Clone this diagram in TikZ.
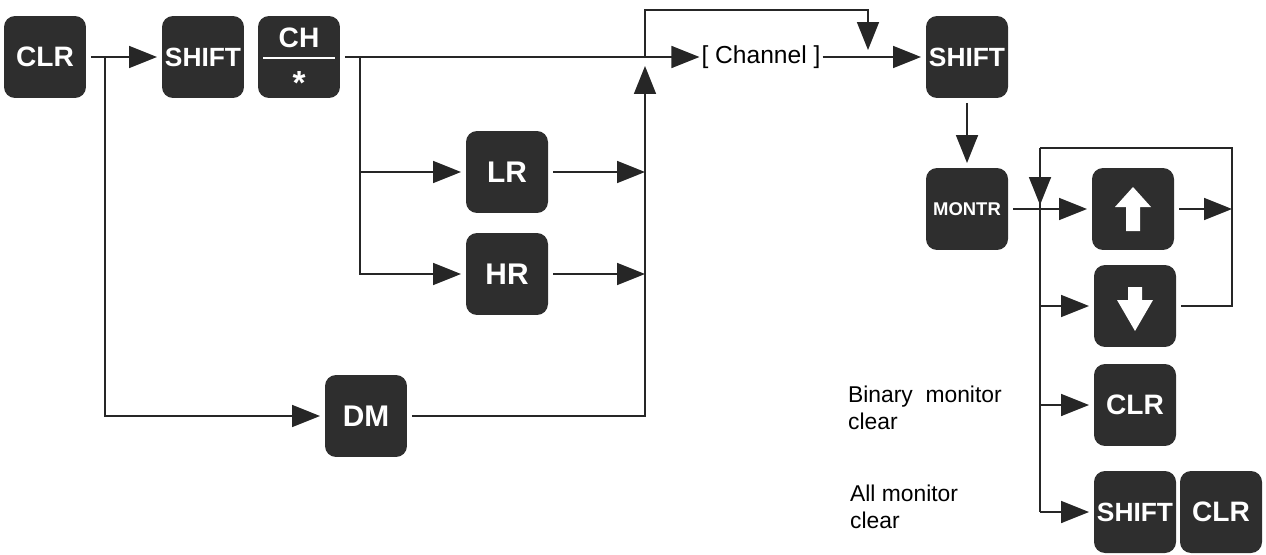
\documentclass[tikz,border=0pt]{standalone}
\usepackage{fontspec}
\setmainfont{Liberation Sans}
\usetikzlibrary{arrows.meta}

\begin{document}
\begin{tikzpicture}[x=0.02cm,y=-0.02cm,
        key/.style={rectangle,rounded corners=0.22cm,fill=black!82,text=white,
            minimum size=1.64cm,inner sep=0pt,outer sep=0.1cm,
            font=\bfseries\fontsize{17}{17}\selectfont},
        keytext/.style={text=white,inner sep=0pt,font=\bfseries\fontsize{16}{16}\selectfont},
        lbl/.style={inner sep=1pt,align=left,font=\fontsize{13}{15}\selectfont},
        wire/.style={line width=1pt,black!85},
        arr/.style={wire,-{Triangle[length=0.56cm,width=0.44cm]}}]

    \useasboundingbox (0,0) rectangle (1266,554);

    % keys, left part
    \node[key,font=\bfseries\fontsize{16}{16}\selectfont] (clr1) at (45,57) {CLR};
    \node[key,font=\bfseries\fontsize{15}{15}\selectfont] (shift1) at (203,57) {SHIFT};
    \node[key] (ch) at (299,57) {};
    \node[keytext] (chtop) at ([shift={(0,-19)}]ch.center) {CH};
    \node[keytext,font=\bfseries\fontsize{19}{19}\selectfont] (chbot) at ([shift={(0,26)}]ch.center) {*};
    \draw[white,line width=1.3pt] ([shift={(-36,1)}]ch.center) -- ([shift={(36,1)}]ch.center);
    \node[key] (lr) at (507,172) {LR};
    \node[key] (hr) at (507,274) {HR};
    \node[key] (dm) at (366,416) {DM};
    \node[inner sep=1pt,font=\fontsize{14}{14}\selectfont] (chan) at (761,57) {[ Channel ]};

    % keys, right part
    \node[key,font=\bfseries\fontsize{15}{15}\selectfont] (shift2) at (967,57) {SHIFT};
    \node[key,font=\bfseries\fontsize{10.5}{10.5}\selectfont] (montr) at (967,209) {MONTR};
    \node[key] (up) at (1133,209) {};
    \node[key] (down) at (1135,306) {};
    \node[key,font=\bfseries\fontsize{16}{16}\selectfont] (clr2) at (1135,405) {CLR};
    \node[key,font=\bfseries\fontsize{15}{15}\selectfont] (shift3) at (1135,512) {SHIFT};
    \node[key,font=\bfseries\fontsize{16}{16}\selectfont] (clr3) at (1221,512) {CLR};
    \fill[white] ([shift={(0,-22)}]up.center) -- ([shift={(18,-2)}]up.center)
        -- ([shift={(7,-2)}]up.center) -- ([shift={(7,22)}]up.center)
        -- ([shift={(-7,22)}]up.center) -- ([shift={(-7,-2)}]up.center)
        -- ([shift={(-18,-2)}]up.center) -- cycle;
    \fill[white] ([shift={(0,25)}]down.center) -- ([shift={(18,-6)}]down.center)
        -- ([shift={(7,-6)}]down.center) -- ([shift={(7,-19)}]down.center)
        -- ([shift={(-7,-19)}]down.center) -- ([shift={(-7,-6)}]down.center)
        -- ([shift={(-18,-6)}]down.center) -- cycle;

    \node[lbl,anchor=west] (binlbl) at (846,408) {Binary\ \ monitor\\clear};
    \node[lbl,anchor=west] (alllbl) at (848,507) {All monitor\\clear};

    % junctions
    \coordinate (j1) at (105,57);
    \coordinate (j2) at (360,57);
    \coordinate (j3) at (645,57);
    \coordinate (m1) at (645,66);
    \coordinate (t0) at (645,10);
    \coordinate (t1) at (868,50);
    \coordinate (k0) at (1040,148);
    \coordinate (k1) at (1040,205);
    \coordinate (k2) at (1232,148);
    \coordinate (k3) at (1040,512);

    % connectors, left part
    \draw[arr] (clr1) -- (shift1);
    \draw[arr] (j1) |- (dm);
    \draw[arr] (ch) -- (chan);
    \draw[arr] (j2) |- (lr);
    \draw[arr] (j2) |- (hr);
    \draw[arr] (lr) -- (lr -| m1);
    \draw[arr] (hr) -- (hr -| m1);
    \draw[arr] (dm) -| (m1);
    \draw[arr] (j3) -- (t0) -| (t1);
    \draw[arr] (chan) -- (shift2);

    % connectors, right part
    \draw[arr] (shift2) -- (montr);
    \draw[arr] (montr) -- (up);
    \draw[arr] (k0) -- (k1);
    \draw[wire] (k0) -- (k3);
    \draw[wire] (down) -| (k2) -- (k0);
    \draw[arr] (up) -- (up -| k2);
    \draw[arr] (k0 |- down) -- (down);
    \draw[arr] (k0 |- clr2) -- (clr2);
    \draw[arr] (k3) -- (shift3);
\end{tikzpicture}
\end{document}
